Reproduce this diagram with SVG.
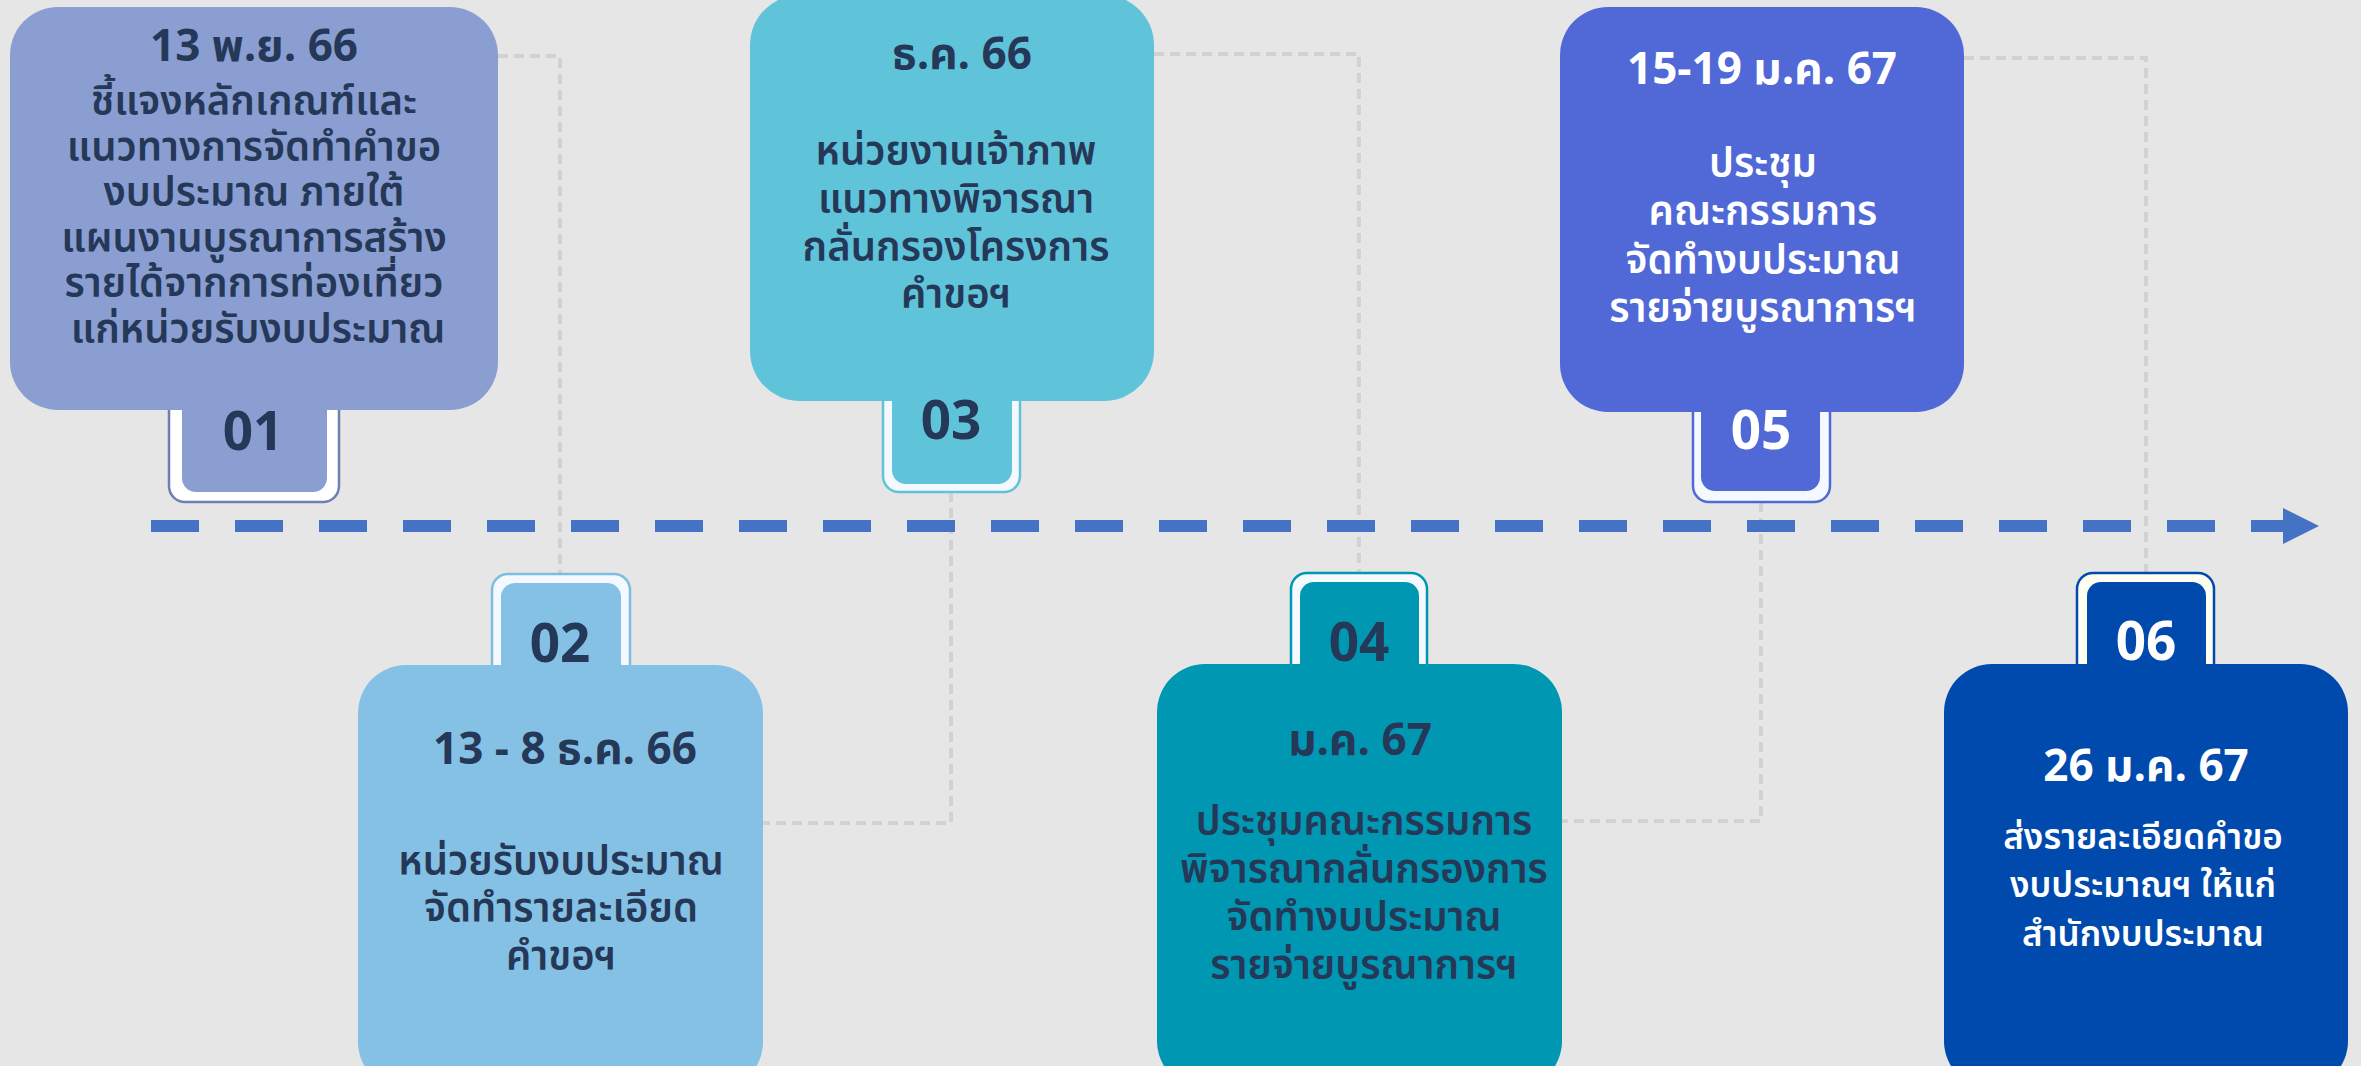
<svg xmlns="http://www.w3.org/2000/svg" width="2361" height="1066" viewBox="0 0 2361 1066">
<style>
.t{font-family:'Noto Sans Thai','Noto Sans','DejaVu Sans',sans-serif;text-anchor:middle;}
.date{font-size:44px;font-weight:700;}
.body{font-size:40px;font-weight:600;}
.body6{font-size:35px;font-weight:600;}
.num{font-size:53px;font-weight:700;}
.dk{fill:#253858;}
.wh{fill:#ffffff;}
.conn{fill:none;stroke:#d2d2d2;stroke-width:4;stroke-dasharray:10 6;}
.band{stroke-width:2.5;}
</style>
<rect x="0" y="0" width="2361" height="1066" fill="#e6e6e6"/>

<g id="connectors">
  <polyline class="conn" points="498,56 560,56 560,574"/>
  <polyline class="conn" points="951,492 951,823 763,823"/>
  <polyline class="conn" points="1154,54 1359,54 1359,573"/>
  <polyline class="conn" points="1761,502 1761,821 1562,821"/>
  <polyline class="conn" points="1964,58 2146,58 2146,573"/>
</g>

<g id="timeline">
  <line x1="151" y1="526" x2="2286" y2="526" stroke="#4472c4" stroke-width="12" stroke-dasharray="48 36"/>
  <polygon points="2283,508 2319,526 2283,544" fill="#4472c4"/>
</g>

<g id="node1">
  <rect class="band" x="169" y="380" width="170" height="122" rx="16" fill="#ffffff" stroke="#6e7fb3"/>
  <rect x="182" y="370" width="145" height="122" rx="14" fill="#8a9ed1"/>
  <rect x="10" y="7" width="488" height="403" rx="48" fill="#8a9ed1"/>
  <text class="t num dk" x="253" y="450">01</text>
  <text class="t date dk" x="254" y="61">13 พ.ย. 66</text>
  <text class="t body dk" x="254" y="115">ชี้แจงหลักเกณฑ์และ</text>
  <text class="t body dk" x="254" y="161">แนวทางการจัดทำคำขอ</text>
  <text class="t body dk" x="254" y="206">งบประมาณ ภายใต้</text>
  <text class="t body dk" x="254" y="252">แผนงานบูรณาการสร้าง</text>
  <text class="t body dk" x="254" y="297">รายได้จากการท่องเที่ยว</text>
  <text class="t body dk" x="258" y="343">แก่หน่วยรับงบประมาณ</text>
</g>

<g id="node2">
  <rect class="band" x="492" y="574" width="138" height="130" rx="16" fill="#f4f8ff" stroke="#7fbde0"/>
  <rect x="501" y="583" width="120" height="120" rx="14" fill="#85c1e4"/>
  <rect x="358" y="665" width="405" height="425" rx="48" fill="#85c1e4"/>
  <text class="t num dk" x="560" y="662">02</text>
  <text class="t date dk" x="565" y="764">13 - 8 ธ.ค. 66</text>
  <text class="t body dk" x="561" y="875">หน่วยรับงบประมาณ</text>
  <text class="t body dk" x="561" y="922">จัดทำรายละเอียด</text>
  <text class="t body dk" x="561" y="970">คำขอฯ</text>
</g>

<g id="node3">
  <rect class="band" x="883" y="370" width="137" height="122" rx="16" fill="#f4f8ff" stroke="#5fc4d9"/>
  <rect x="892" y="360" width="120" height="124" rx="14" fill="#5fc4d9"/>
  <rect x="750" y="-5" width="404" height="406" rx="50" fill="#5fc4d9"/>
  <text class="t num dk" x="951" y="439">03</text>
  <text class="t date dk" x="962" y="69">ธ.ค. 66</text>
  <text class="t body dk" x="956" y="165">หน่วยงานเจ้าภาพ</text>
  <text class="t body dk" x="956" y="213">แนวทางพิจารณา</text>
  <text class="t body dk" x="956" y="261">กลั่นกรองโครงการ</text>
  <text class="t body dk" x="956" y="308">คำขอฯ</text>
</g>

<g id="node4">
  <rect class="band" x="1291" y="573" width="136" height="130" rx="16" fill="#f4f8ff" stroke="#0097b2"/>
  <rect x="1300" y="582" width="119" height="120" rx="14" fill="#0097b2"/>
  <rect x="1157" y="664" width="405" height="425" rx="48" fill="#0097b2"/>
  <text class="t num dk" x="1359" y="661">04</text>
  <text class="t date dk" x="1360" y="755">ม.ค. 67</text>
  <text class="t body dk" x="1364" y="835">ประชุมคณะกรรมการ</text>
  <text class="t body dk" x="1364" y="883">พิจารณากลั่นกรองการ</text>
  <text class="t body dk" x="1364" y="931">จัดทำงบประมาณ</text>
  <text class="t body dk" x="1364" y="979">รายจ่ายบูรณาการฯ</text>
</g>

<g id="node5">
  <rect class="band" x="1693" y="380" width="137" height="122" rx="16" fill="#f4f8ff" stroke="#5169d6"/>
  <rect x="1701" y="370" width="119" height="121" rx="14" fill="#5169d6"/>
  <rect x="1560" y="7" width="404" height="405" rx="48" fill="#5169d6"/>
  <text class="t num wh" x="1761" y="449">05</text>
  <text class="t date wh" x="1762" y="84">15-19 ม.ค. 67</text>
  <text class="t body wh" x="1763" y="177">ประชุม</text>
  <text class="t body wh" x="1763" y="225">คณะกรรมการ</text>
  <text class="t body wh" x="1763" y="274">จัดทำงบประมาณ</text>
  <text class="t body wh" x="1763" y="322">รายจ่ายบูรณาการฯ</text>
</g>

<g id="node6">
  <rect class="band" x="2077" y="573" width="137" height="130" rx="16" fill="#fffef2" stroke="#004aad"/>
  <rect x="2087" y="582" width="119" height="120" rx="14" fill="#004aad"/>
  <rect x="1944" y="664" width="404" height="425" rx="48" fill="#004aad"/>
  <text class="t num wh" x="2146" y="660">06</text>
  <text class="t date wh" x="2146" y="781">26 ม.ค. 67</text>
  <text class="t body6 wh" x="2143" y="849">ส่งรายละเอียดคำขอ</text>
  <text class="t body6 wh" x="2143" y="897">งบประมาณฯ ให้แก่</text>
  <text class="t body6 wh" x="2143" y="946">สำนักงบประมาณ</text>
</g>
</svg>
